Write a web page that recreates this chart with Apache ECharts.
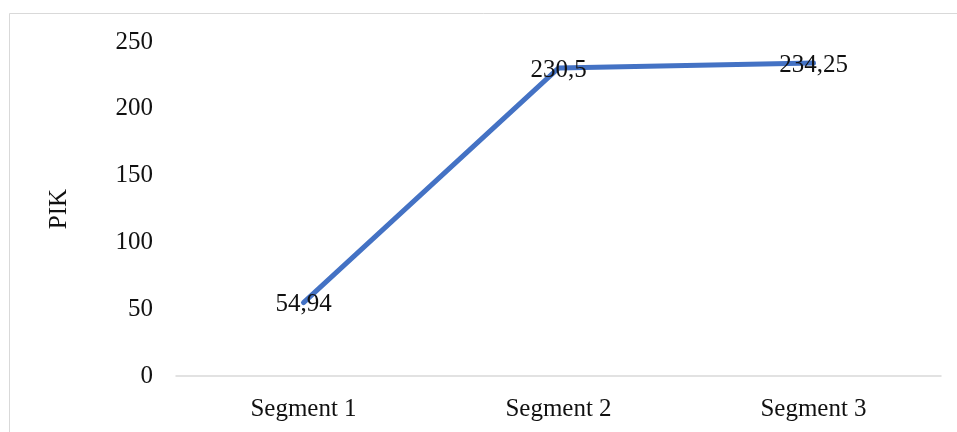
<!DOCTYPE html>
<html>
<head>
<meta charset="utf-8">
<script src="https://cdn.jsdelivr.net/npm/echarts@6/dist/echarts.min.js"></script>
<style>
html,body{margin:0;padding:0;background:#fff;}
#chart{width:957px;height:432px;}
</style>
</head>
<body>
<div id="chart"></div>
<script>
const categories = ['Segment 1', 'Segment 2', 'Segment 3'];
const pikValues = [54.94, 230.5, 234.25];
const yAxisName = 'PIK';

const FONT = 'Liberation Serif';
const chart = echarts.init(document.getElementById('chart'));
chart.setOption({
  animation: false,
  backgroundColor: '#ffffff',
  graphic: [{
    type: 'rect',
    shape: { x: 9.5, y: 13.5, width: 960, height: 440 },
    style: { fill: 'none', stroke: '#d9d9d9', lineWidth: 1 },
    silent: true,
    z: -1
  }],
  grid: { left: 176, right: 16, top: 42, bottom: 56 },
  xAxis: {
    type: 'category',
    data: categories,
    boundaryGap: true,
    axisTick: { show: false },
    axisLine: { lineStyle: { color: '#d9d9d9', width: 1.5 } },
    axisLabel: { color: '#111', fontFamily: FONT, fontSize: 25, margin: 21 }
  },
  yAxis: {
    type: 'value',
    min: 0, max: 250, interval: 50,
    name: yAxisName,
    nameLocation: 'middle',
    nameGap: 104,
    nameTextStyle: { color: '#111', fontFamily: FONT, fontSize: 25 },
    axisLine: { show: false },
    axisTick: { show: false },
    splitLine: { show: false },
    axisLabel: { color: '#111', fontFamily: FONT, fontSize: 25, margin: 23 }
  },
  series: [{
    type: 'line',
    data: pikValues,
    symbol: 'circle',
    symbolSize: 1,
    showSymbol: true,
    itemStyle: { color: '#4472C4' },
    lineStyle: { color: '#4472C4', width: 5, cap: 'round', join: 'round' },
    label: {
      show: true,
      position: 'inside',
      offset: [0, 2],
      color: '#111',
      fontFamily: FONT,
      fontSize: 25,
      formatter: p => String(p.value).replace('.', ',')
    }
  }]
});
</script>
</body>
</html>
